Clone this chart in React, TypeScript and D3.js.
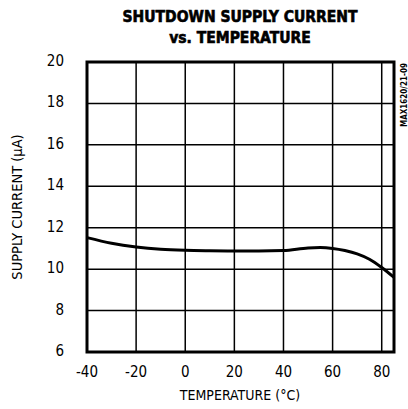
import { useRef, useEffect } from 'react';
import * as d3 from 'd3';

const TITLE_LINES = ['SHUTDOWN SUPPLY CURRENT', 'vs. TEMPERATURE'];
const X_TICKS = [-40, -20, 0, 20, 40, 60, 80];
const Y_TICKS = [6, 8, 10, 12, 14, 16, 18, 20];
const TEMP = [-40, -30, -20, -10, 0, 10, 20, 30, 40, 50, 55, 60, 65, 70, 75, 80, 85];
const CURRENT = [11.52, 11.25, 11.07, 10.96, 10.91, 10.89, 10.88, 10.88, 10.9, 11.02, 11.04, 11.0, 10.9, 10.74, 10.48, 10.08, 9.6];

const NARROW = '"DejaVu Sans Condensed", "Liberation Sans", sans-serif';

export default function App() {
  const ref = useRef<SVGSVGElement | null>(null);

  useEffect(() => {
    const svg = d3.select(ref.current);
    svg.selectAll('*').remove();

    const W = 408, H = 409;
    const m = { top: 62, right: 14, bottom: 57, left: 87 };
    const iw = W - m.left - m.right;
    const ih = H - m.top - m.bottom;
    const ink = '#000';

    const x = d3.scaleLinear().domain([-40, 85]).range([0, iw]);
    const y = d3.scaleLinear().domain([6, 20]).range([ih, 0]);

    // title
    svg.append('g')
      .selectAll('text')
      .data(TITLE_LINES)
      .join('text')
      .attr('x', 240)
      .attr('y', (_, i) => 22 + i * 21)
      .attr('text-anchor', 'middle')
      .attr('fill', ink)
      .attr('stroke', ink)
      .attr('stroke-width', 0.6)
      .style('font-family', '"DejaVu Sans Condensed", "DejaVu Sans", sans-serif')
      .style('font-weight', '900')
      .style('font-size', '15.5px')
      .text(d => d);

    const g = svg.append('g').attr('transform', `translate(${m.left},${m.top})`);

    // grid
    g.append('g')
      .selectAll('line')
      .data(X_TICKS.slice(1))
      .join('line')
      .attr('x1', d => x(d)).attr('x2', d => x(d))
      .attr('y1', 0).attr('y2', ih)
      .attr('stroke', ink).attr('stroke-width', 1.5);

    g.append('g')
      .selectAll('line')
      .data(Y_TICKS.slice(1, -1))
      .join('line')
      .attr('x1', 0).attr('x2', iw)
      .attr('y1', d => y(d)).attr('y2', d => y(d))
      .attr('stroke', ink).attr('stroke-width', 1.5);

    // curve
    const line = d3.line<number>()
      .x((_, i) => x(TEMP[i]))
      .y(d => y(d))
      .curve(d3.curveMonotoneX);
    g.append('path')
      .datum(CURRENT)
      .attr('d', line)
      .attr('fill', 'none')
      .attr('stroke', ink)
      .attr('stroke-width', 3);

    // frame
    g.append('rect')
      .attr('x', 0).attr('y', 0)
      .attr('width', iw).attr('height', ih)
      .attr('fill', 'none')
      .attr('stroke', ink).attr('stroke-width', 3);

    // y tick labels
    g.append('g')
      .selectAll('text')
      .data(Y_TICKS)
      .join('text')
      .attr('x', -23)
      .attr('y', d => y(d) + 4)
      .attr('text-anchor', 'end')
      .attr('fill', ink)
      .style('font-family', NARROW)
      .style('font-size', '15px')
      .text(d => d);

    // x tick labels
    g.append('g')
      .selectAll('text')
      .data(X_TICKS)
      .join('text')
      .attr('x', d => x(d))
      .attr('y', ih + 25)
      .attr('text-anchor', 'middle')
      .attr('fill', ink)
      .style('font-family', NARROW)
      .style('font-size', '15px')
      .text(d => d);

    // axis titles
    svg.append('text')
      .attr('x', 240).attr('y', 400)
      .attr('text-anchor', 'middle')
      .attr('fill', ink)
      .style('font-family', NARROW)
      .style('font-size', '14px')
      .text('TEMPERATURE (°C)');

    svg.append('text')
      .attr('transform', `translate(22,${m.top + ih / 2}) rotate(-90)`)
      .attr('text-anchor', 'middle')
      .attr('fill', ink)
      .style('font-family', NARROW)
      .style('font-size', '14.5px')
      .text('SUPPLY CURRENT (µA)');

    svg.append('text')
      .attr('transform', `translate(407,63) rotate(-90)`)
      .attr('text-anchor', 'end')
      .attr('fill', ink)
      .style('font-family', NARROW)
      .style('font-weight', '700')
      .style('font-size', '8px')
      .text('MAX1620/21-09');
  }, []);

  return (
    <svg
      ref={ref}
      width={408}
      height={409}
      style={{ position: 'absolute', left: 0, top: 0, background: '#fff', display: 'block' }}
    />
  );
}
